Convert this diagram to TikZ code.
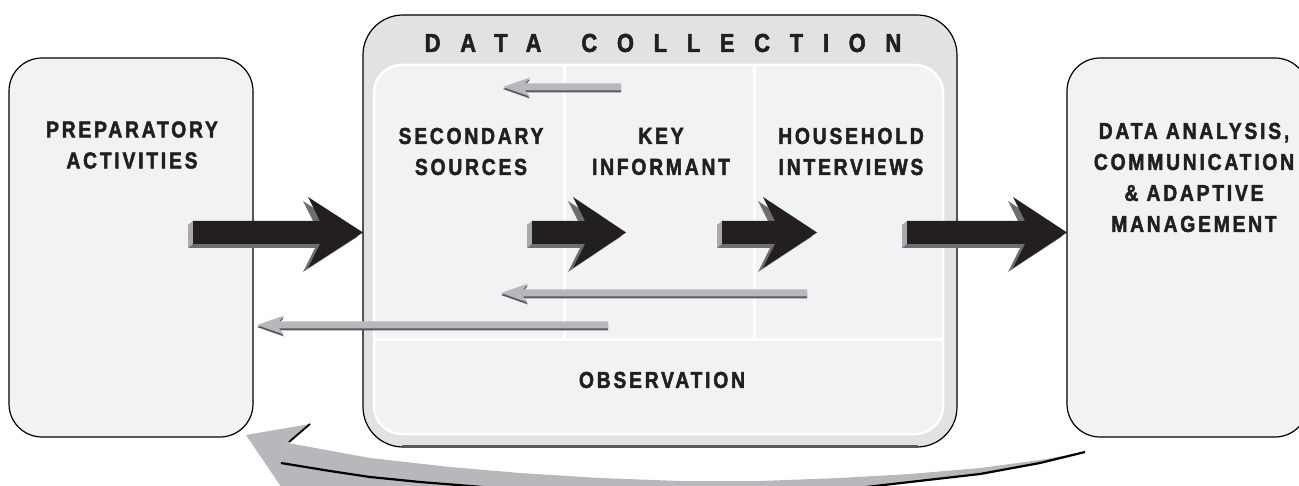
\documentclass[tikz,border=0pt]{standalone}
\usepackage{fontspec}
\usepackage{tikz}
\usetikzlibrary{positioning}

\newfontfamily\boxfont{Liberation Sans Bold}[FakeStretch=0.84,LetterSpace=12,FakeBold=2]
\newfontfamily\titlefont{Liberation Sans Bold}[FakeStretch=0.84,LetterSpace=76,FakeBold=2]

\definecolor{boxfill}{HTML}{F1F2F3}
\definecolor{framefill}{HTML}{E1E2E4}
\definecolor{inkblack}{HTML}{231F20}
\definecolor{sidegray}{HTML}{A7A9AC}
\definecolor{shadegray}{HTML}{6D6E71}
\definecolor{arrowgray}{HTML}{B7B8BB}
\definecolor{rimgray}{HTML}{58595B}

% black block arrow: shaft start x, barb x, tip x
\newcommand{\blockarrow}[3]{%
  \fill[shadegray, shift={(-5,4)}] (#1,221) -- (#2+12,221) -- (#2,197) -- (#3,232.5)
    -- (#2,268) -- (#2+12,244) -- (#1,244) -- cycle;
  \fill[sidegray] (#1-5,225) -- (#1,221) -- (#1,244) -- (#1-5,248) -- cycle;
  \fill[inkblack] (#1,221) -- (#2+12,221) -- (#2,197) -- (#3,232.5)
    -- (#2,268) -- (#2+12,244) -- (#1,244) -- cycle;
}
% thin gray arrow pointing back: y, tip x, end x
\newcommand{\backarrow}[3]{%
  \foreach \c/\dy in {rimgray/2, arrowgray/0}
    \fill[\c, shift={(0,\dy)}] (#2,#1) -- (#2+27,#1-9.5) -- (#2+22,#1-3.5) -- (#3,#1-3.5)
      -- (#3,#1+3.5) -- (#2+22,#1+3.5) -- (#2+27,#1+9.5) -- cycle;
}

\tikzset{
  panel/.style={draw=black, line width=1.2pt, fill=boxfill, rounded corners=33pt},
  boxtext/.style={font=\boxfont\fontsize{23}{31}\selectfont, text=inkblack,
    align=center, inner sep=0pt},
}

\begin{document}
\begin{tikzpicture}[x=1pt, y=-1pt]
  \useasboundingbox (0,0) rectangle (1299,486);
  \clip (0,0) rectangle (1299,486);

  % outer boxes
  \node[panel, minimum width=244, minimum height=379] (prep) at (131,247.5) {};
  \node[panel, minimum width=241, minimum height=379] (ana) at (1187.5,247.5) {};
  \node[panel, fill=framefill, rounded corners=40pt, minimum width=594, minimum height=432]
    (dc) at (660,231) {};
  \draw[rimgray, line width=2pt] ([xshift=40pt,yshift=1.5pt]dc.south west)
    -- ([xshift=-40pt,yshift=1.5pt]dc.south east);
  \node[draw=white, line width=2.5pt, fill=boxfill, rounded corners=28pt,
    minimum width=569, minimum height=369] (inner) at (658.5,249.5) {};

  % dividers inside data collection
  \draw[white, line width=3pt] (inner.north -| 564,0) -- (564,340);
  \draw[white, line width=3pt] (inner.north -| 754,0) -- (754,340);
  \draw[white, line width=3pt] (inner.west |- 0,340) -- (inner.east |- 0,340);

  % texts
  \node[boxtext, font=\titlefont\fontsize{26}{30}\selectfont] (title) at (663,43)
    {DATA\hspace{40pt}COLLECTION};
  \node[boxtext] (preptxt) at (132,145) {PREPARATORY\\ACTIVITIES};
  \node[boxtext] (sectxt) at (471,151.5) {SECONDARY\\SOURCES};
  \node[boxtext] (keytxt) at (661,151.5) {KEY\\INFORMANT};
  \node[boxtext] (hhtxt) at (851,151.5) {HOUSEHOLD\\INTERVIEWS};
  \node[boxtext] (obstxt) at (662,380) {OBSERVATION};
  \node[boxtext] (anatxt) at (1194,177.5)
    {DATA ANALYSIS,\\COMMUNICATION\\\&\ ADAPTIVE\\MANAGEMENT};

  % gray arrows back
  \backarrow{87}{503}{621}
  \backarrow{293}{501}{807}
  \backarrow{325}{257}{608}

  % black arrows forward
  \blockarrow{193}{308}{363}
  \blockarrow{532}{573}{626}
  \blockarrow{722}{763}{817}
  \blockarrow{907}{1013}{1067}

  % big curved return arrow
  \fill[arrowgray] (288,443) -- (370,458) -- (450,467) -- (520,473) -- (600,478) -- (680,481)
    -- (760,481) -- (840,478) -- (910,474) -- (980,468) -- (1040,460) -- (1085,452)
    -- (1040,463) -- (980,474) -- (910,482) -- (840,490) -- (840,520)
    -- (281,520) -- (281,463) -- cycle;
  \fill[arrowgray] (246,435) -- (310,424) -- (288,443) -- (281,463) -- (288,497) -- cycle;
  \draw[black, line width=2.2pt, line join=round] (281,463) -- (330,471) -- (370,477)
    -- (420,482) -- (470,486) -- (520,490);
  \draw[black, line width=2.2pt, line join=round] (840,490) -- (910,482) -- (980,474)
    -- (1040,463) -- (1085,452);
  \draw[black, line width=1.8pt] (310,424) -- (289,442);
\end{tikzpicture}
\end{document}
